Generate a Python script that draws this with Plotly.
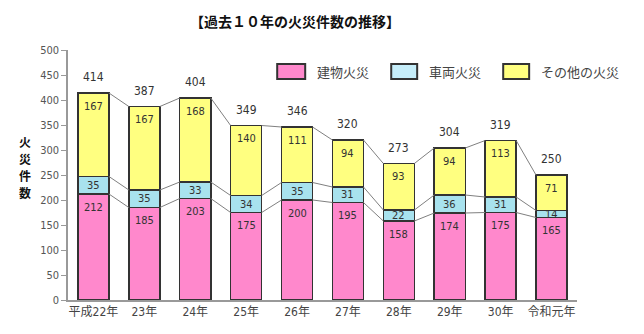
import plotly.graph_objects as go

# 火災件数（種別ごと）
years = ["平成22年", "23年", "24年", "25年", "26年", "27年", "28年", "29年", "30年", "令和元年"]
building = [212, 185, 203, 175, 200, 195, 158, 174, 175, 165]
vehicle = [35, 35, 33, 34, 35, 31, 22, 36, 31, 14]
other = [167, 167, 168, 140, 111, 94, 93, 94, 113, 71]
series_names = ["建物火災", "車両火災", "その他の火災"]
y_ticks = [0, 50, 100, 150, 200, 250, 300, 350, 400, 450, 500]
y_title = "火災件数"

colors = ["#FF88CC", "#A8E2EE", "#FFFF80"]
legend_colors = ["#FF88CC", "#C6EEFA", "#FFFF80"]
edge = "#333333"
bar_w = 0.61
mixed = "Liberation Sans Narrow, DejaVu Sans Condensed, Noto Sans CJK JP, sans-serif"
jp_font = "Noto Sans CJK JP"

W, H = 644, 334
M = dict(l=68, r=67, t=50, b=34)
Y_MAX = 500
px_per_unit = (H - M["t"] - M["b"]) / Y_MAX

x = list(range(len(years)))
stack = [building, vehicle, other]
totals = [b + v + o for b, v, o in zip(building, vehicle, other)]

fig = go.Figure()
for name, vals, col in zip(series_names, stack, colors):
    fig.add_trace(go.Bar(
        x=x, y=vals, name=name, width=bar_w,
        marker=dict(color=col, line=dict(color=edge, width=1.5)),
        showlegend=False, hoverinfo="y",
    ))

# 各段の上端（累積値）
tops = []
run = [0] * len(x)
for vals in stack:
    run = [r + v for r, v in zip(run, vals)]
    tops.append(run)

# 系列線：隣り合う棒の各段の上端を結ぶ
for lev in tops:
    lx, ly = [], []
    for i in range(len(x) - 1):
        lx += [x[i] + bar_w / 2, x[i + 1] - bar_w / 2, None]
        ly += [lev[i], lev[i + 1], None]
    fig.add_trace(go.Scatter(x=lx, y=ly, mode="lines",
                             line=dict(color="#808080", width=1),
                             hoverinfo="skip", showlegend=False))

annotations = []
# 棒内の値（各段の上寄り）
for vals, lev in zip(stack, tops):
    for i, (v, t) in enumerate(zip(vals, lev)):
        shift = min(13, v * px_per_unit / 2)
        annotations.append(dict(x=x[i], y=t, xref="x", yref="y", text=str(v),
                                showarrow=False, yanchor="middle", yshift=-shift,
                                font=dict(family=mixed, size=11, color="#333333")))
# 合計値
for i, t in enumerate(totals):
    annotations.append(dict(x=x[i], y=t, xref="x", yref="y", text=str(t),
                            showarrow=False, yanchor="middle", yshift=16,
                            font=dict(family=mixed, size=12, color="#333333")))

# 凡例
legend_boxes = [(0.411, 0.466), (0.635, 0.686), (0.855, 0.906)]
shapes = []
for (bx0, bx1), name, col in zip(legend_boxes, series_names, legend_colors):
    shapes.append(dict(type="rect", xref="paper", yref="paper",
                       x0=bx0, x1=bx1, y0=0.884, y1=0.944,
                       fillcolor=col, line=dict(color=edge, width=2)))
    annotations.append(dict(x=bx1 + 0.02, y=0.914, xref="paper", yref="paper",
                            text=name, showarrow=False, xanchor="left", yanchor="middle",
                            font=dict(family=jp_font, size=13, color="#444444")))

annotations.append(dict(x=0.446, y=1.116, xref="paper", yref="paper",
                        text="<b>【過去１０年の火災件数の推移】</b>", showarrow=False,
                        xanchor="center", yanchor="middle",
                        font=dict(family=jp_font, size=14, color="#111111")))
# 縦書きの軸タイトル（一文字ずつ）
n_chars = len(y_title)
for k, ch in enumerate(y_title):
    annotations.append(dict(x=-0.085, y=0.532, xref="paper", yref="paper",
                            text=f"<b>{ch}</b>", showarrow=False, borderpad=0,
                            xanchor="center", yanchor="middle",
                            yshift=((n_chars - 1) / 2 - k) * 17,
                            font=dict(family=jp_font, size=12, color="#111111")))

fig.update_layout(
    width=W, height=H,
    margin=M,
    paper_bgcolor="white", plot_bgcolor="white",
    barmode="stack",
    shapes=shapes,
    annotations=annotations,
    font=dict(family=jp_font),
)

fig.update_xaxes(range=[-0.5, len(years) - 0.5], tickvals=x, ticktext=years,
                 showline=True, linecolor="#999999", linewidth=1.5,
                 ticks="", showgrid=False, zeroline=False,
                 tickfont=dict(family=mixed, size=12, color="#444444"))
fig.update_yaxes(range=[0, Y_MAX], tickvals=y_ticks,
                 showline=True, linecolor="#999999", linewidth=1.5,
                 ticks="outside", ticklen=5, tickcolor="#999999",
                 showgrid=False, zeroline=False,
                 tickfont=dict(family=mixed, size=11, color="#555555"))

fig.write_html("out.html")
